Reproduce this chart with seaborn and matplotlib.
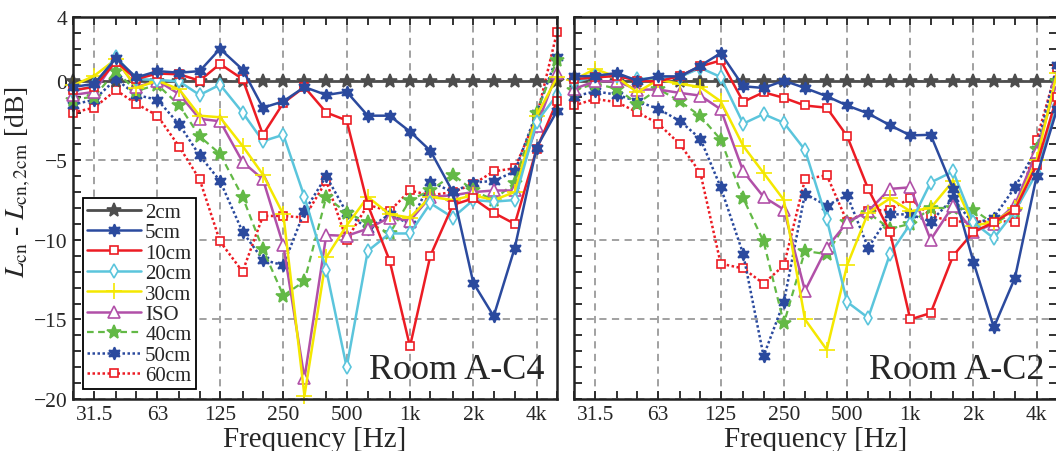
import numpy as np
import pandas as pd
import matplotlib
matplotlib.use("Agg")
import matplotlib.pyplot as plt
import seaborn as sns
from matplotlib.ticker import FixedLocator, FixedFormatter, NullFormatter, MultipleLocator
from matplotlib.lines import Line2D

# One-third octave band centre frequencies [Hz]
freqs = [25, 31.5, 40, 50, 63, 80, 100, 125, 160, 200, 250, 315, 400, 500,
         630, 800, 1000, 1250, 1600, 2000, 2500, 3150, 4000, 5000]
octave_ticks = [31.5, 63, 125, 250, 500, 1000, 2000, 4000]
octave_labels = ["31.5", "63", "125", "250", "500", "1k", "2k", "4k"]
y_ticks = [4, 0, -5, -10, -15, -20]

series_names = ["2cm", "5cm", "10cm", "20cm", "30cm", "ISO", "40cm", "50cm", "60cm"]

# Room A-C4: level difference to the 2 cm position [dB]
c4_2cm = [0.0] * 24
c4_5cm = [-0.4, -0.2, 1.4, 0.2, 0.6, 0.5, 0.6, 2.0, 0.7, -1.7, -1.3, -0.4,
          -0.9, -0.7, -2.2, -2.2, -3.2, -4.4, -7.0, -12.7, -14.8, -10.5, -4.2, -1.9]
c4_10cm = [-0.6, -0.4, 1.2, 0.1, 0.45, 0.4, 0.0, 1.05, 0.1, -3.4, -1.4, -0.4,
           -2.0, -2.5, -7.8, -11.3, -16.7, -11.0, -7.8, -7.4, -8.3, -9.0, -4.3, -1.3]
c4_20cm = [-0.7, -0.3, 1.5, 0.1, 0.05, -0.05, -0.9, -0.25, -2.0, -3.8, -3.4, -7.3,
           -11.9, -18.0, -10.7, -9.6, -9.6, -7.7, -8.6, -7.5, -7.6, -7.5, -2.6, -0.9]
c4_30cm = [-0.3, 0.3, 1.35, -0.45, 0.0, -0.55, -2.2, -2.3, -4.1, -5.9, -8.4, -19.8,
           -11.1, -9.1, -7.3, -8.4, -8.6, -7.3, -7.5, -7.2, -7.5, -7.0, -2.2, 0.2]
c4_iso = [-0.9, -0.7, 1.3, -0.4, 0.0, -0.85, -2.4, -2.55, -5.1, -6.2, -10.35, -18.7,
          -9.7, -9.75, -9.3, -8.6, -8.8, -7.3, -7.2, -7.0, -6.9, -6.9, -2.85, 0.5]
c4_40cm = [-1.2, -1.0, 0.6, -0.65, -0.25, -1.55, -3.5, -4.6, -7.3, -10.6, -13.5, -12.6,
           -7.3, -8.3, -8.9, -9.6, -7.5, -6.9, -5.9, -6.9, -7.5, -6.4, -2.0, 1.3]
c4_50cm = [-1.5, -1.2, 0.1, -0.9, -1.2, -2.75, -4.7, -6.3, -9.5, -11.25, -11.6, -8.2,
           -6.0, -8.3, -9.3, -8.4, -9.0, -6.35, -7.0, -6.4, -6.3, -5.7, -2.0, 1.5]
c4_60cm = [-2.0, -1.7, -0.6, -1.45, -2.2, -4.15, -6.2, -10.1, -12.0, -8.5, -8.5, -8.6,
           -6.3, -10.0, -7.8, -8.2, -6.9, -7.2, -7.0, -6.5, -5.7, -5.5, -2.3, 3.05]

# Room A-C2: level difference to the 2 cm position [dB]
c2_2cm = [0.0] * 24
c2_5cm = [0.27, 0.3, 0.48, 0.0, 0.27, 0.27, 0.94, 1.73, -0.35, -0.46, 0.0, -0.46,
          -0.98, -1.56, -2.06, -2.8, -3.44, -3.4, -6.8, -11.4, -15.5, -12.4, -6.0, -1.8]
c2_10cm = [0.1, 0.2, 0.3, 0.0, -0.05, 0.3, 0.9, 1.27, -1.33, -0.73, -1.08, -1.56,
           -1.7, -3.48, -6.8, -9.5, -15.0, -14.6, -11.0, -9.5, -8.9, -8.1, -5.3, -1.0]
c2_20cm = [-0.15, 0.3, 0.27, 0.1, 0.17, 0.23, 0.8, 0.23, -2.7, -2.1, -2.65, -4.35,
           -8.7, -13.9, -14.9, -10.9, -9.0, -6.4, -5.7, -8.9, -9.9, -8.2, -5.8, -1.5]
c2_30cm = [0.06, 0.73, 0.23, -0.73, 0.06, -0.2, -0.4, -1.3, -4.1, -5.8, -7.5, -15.0,
           -16.9, -11.6, -8.3, -7.4, -8.2, -8.0, -6.3, -9.1, -8.9, -8.0, -5.0, 0.5]
c2_iso = [-0.52, -0.04, -0.04, -0.56, -0.56, -0.77, -0.94, -1.8, -5.7, -7.3, -8.1, -13.2,
          -10.5, -8.9, -8.2, -6.8, -6.7, -10.0, -7.85, -9.5, -9.0, -7.8, -4.5, 0.0]
c2_40cm = [-0.6, -0.2, -0.5, -1.44, -0.52, -1.3, -2.23, -3.7, -7.4, -10.1, -15.25, -10.7,
           -10.9, -8.85, -8.3, -9.3, -9.0, -8.0, -8.0, -8.1, -9.0, -8.2, -4.3, 0.0]
c2_50cm = [-1.0, -0.67, -0.88, -1.3, -1.77, -2.54, -3.65, -6.7, -10.9, -17.3, -13.9, -7.1,
           -7.85, -7.2, -10.5, -8.4, -8.4, -8.85, -7.4, -9.0, -8.6, -6.7, -4.3, 1.0]
c2_60cm = [-1.56, -1.15, -1.35, -1.98, -2.7, -4.0, -5.8, -11.5, -11.8, -12.75, -11.6, -6.2,
           -5.94, -8.85, -8.2, -8.1, -7.4, -8.5, -8.85, -8.85, -8.85, -8.85, -3.7, 0.8]

room_c4 = [c4_2cm, c4_5cm, c4_10cm, c4_20cm, c4_30cm, c4_iso, c4_40cm, c4_50cm, c4_60cm]
room_c2 = [c2_2cm, c2_5cm, c2_10cm, c2_20cm, c2_30cm, c2_iso, c2_40cm, c2_50cm, c2_60cm]

BLUE = "#2b4a9e"
RED = "#ec1c24"
STAR6 = (6, 1, 0)
styles = {
    "2cm":  dict(color="#4d4d4d", marker="*", ls="-", mfc="#4d4d4d", ms=10, lw=2.0),
    "5cm":  dict(color=BLUE, marker=STAR6, ls="-", mfc=BLUE, ms=9, lw=1.8),
    "10cm": dict(color=RED, marker="s", ls="-", mfc="white", ms=6, lw=1.8),
    "20cm": dict(color="#5bc5dc", marker="d", ls="-", mfc="white", ms=7, lw=1.8),
    "30cm": dict(color="#f4e800", marker="+", ls="-", mfc="#f4e800", ms=11, lw=1.8),
    "ISO":  dict(color="#b150a8", marker="^", ls="-", mfc="white", ms=8, lw=1.8),
    "40cm": dict(color="#63b946", marker="*", ls=(0, (3, 2)), mfc="#63b946", ms=10, lw=1.6),
    "50cm": dict(color=BLUE, marker=STAR6, ls=(0, (1, 1)), mfc=BLUE, ms=9, lw=1.8),
    "60cm": dict(color=RED, marker="s", ls=(0, (1, 1)), mfc="white", ms=6, lw=1.8),
}

sns.set_theme(style="ticks")
plt.rcParams["font.family"] = ["Liberation Serif", "DejaVu Serif"]
plt.rcParams["mathtext.fontset"] = "stix"

fig = plt.figure(figsize=(10.56, 4.52), dpi=100)
W, H = 1056, 452
ax_l = fig.add_axes([73 / W, 52 / H, 484 / W, 382 / H])
ax_r = fig.add_axes([574 / W, 52 / H, 483 / W, 382 / H])


def draw_room(ax, values, title, show_ylabels):
    frames = []
    for name, vals in zip(series_names, values):
        frames.append(pd.DataFrame({"freq": freqs, "dB": vals, "series": name}))
    df = pd.concat(frames, ignore_index=True)
    order = list(range(len(series_names)))
    for z, idx in enumerate(reversed(order)):
        name = series_names[idx]
        st = styles[name]
        sub = df[df["series"] == name]
        sns.lineplot(data=sub, x="freq", y="dB", ax=ax, color=st["color"],
                     marker=st["marker"], linestyle=st["ls"], linewidth=st["lw"],
                     markersize=st["ms"], markerfacecolor=st["mfc"],
                     markeredgecolor=st["color"], markeredgewidth=1.2,
                     errorbar=None, legend=False, sort=False, clip_on=False,
                     zorder=3 + z if name != "2cm" else 3)
    ax.set_xscale("log")
    ax.set_xlim(25, 5000)
    ax.set_ylim(-20, 4)
    ax.xaxis.set_major_locator(FixedLocator(octave_ticks))
    ax.xaxis.set_major_formatter(FixedFormatter(octave_labels))
    ax.xaxis.set_minor_locator(FixedLocator(freqs))
    ax.xaxis.set_minor_formatter(NullFormatter())
    ax.yaxis.set_major_locator(FixedLocator(y_ticks))
    ax.yaxis.set_minor_locator(MultipleLocator(1))
    ax.tick_params(which="both", direction="in", top=True, right=not show_ylabels,
                   length=6, width=1.3, color="#222222", labelsize=15.5, pad=4)
    ax.tick_params(axis="y", labelleft=show_ylabels, labelright=False)
    ax.grid(True, which="major", linestyle=(0, (4, 3)), color="#9a9a9a", linewidth=1.3)
    for sp in ax.spines.values():
        sp.set_linewidth(1.8)
        sp.set_color("#222222")
        sp.set_zorder(20)
    ax.set_xlabel("Frequency [Hz]", fontsize=21, labelpad=2)
    ax.set_ylabel("")
    ax.text(0.975, 0.035, title, transform=ax.transAxes, ha="right", va="bottom",
            fontsize=26, zorder=30)


draw_room(ax_l, room_c4, "Room A-C4", True)
draw_room(ax_r, room_c2, "Room A-C2", False)

ax_l.set_ylabel(r"$L_{\mathrm{cn}}$ - $L_{\mathrm{cn,2cm}}$ [dB]", fontsize=20)
ax_l.yaxis.set_label_coords(-0.083, 0.57)

handles = []
for name in series_names:
    st = styles[name]
    handles.append(Line2D([], [], color=st["color"], marker=st["marker"], linestyle=st["ls"],
                          linewidth=st["lw"], markersize=st["ms"], markerfacecolor=st["mfc"],
                          markeredgecolor=st["color"], markeredgewidth=1.2))
leg = ax_l.legend(handles, series_names, loc="lower left", bbox_to_anchor=(0.02, 0.025),
                  borderaxespad=0, frameon=True, fancybox=False, edgecolor="black",
                  fontsize=15, handlelength=2.6, handletextpad=0.2, labelspacing=0.04,
                  borderpad=0.2, framealpha=1)
leg.get_frame().set_linewidth(1.3)
leg.set_zorder(40)

fig.savefig("out.png", dpi=100)
